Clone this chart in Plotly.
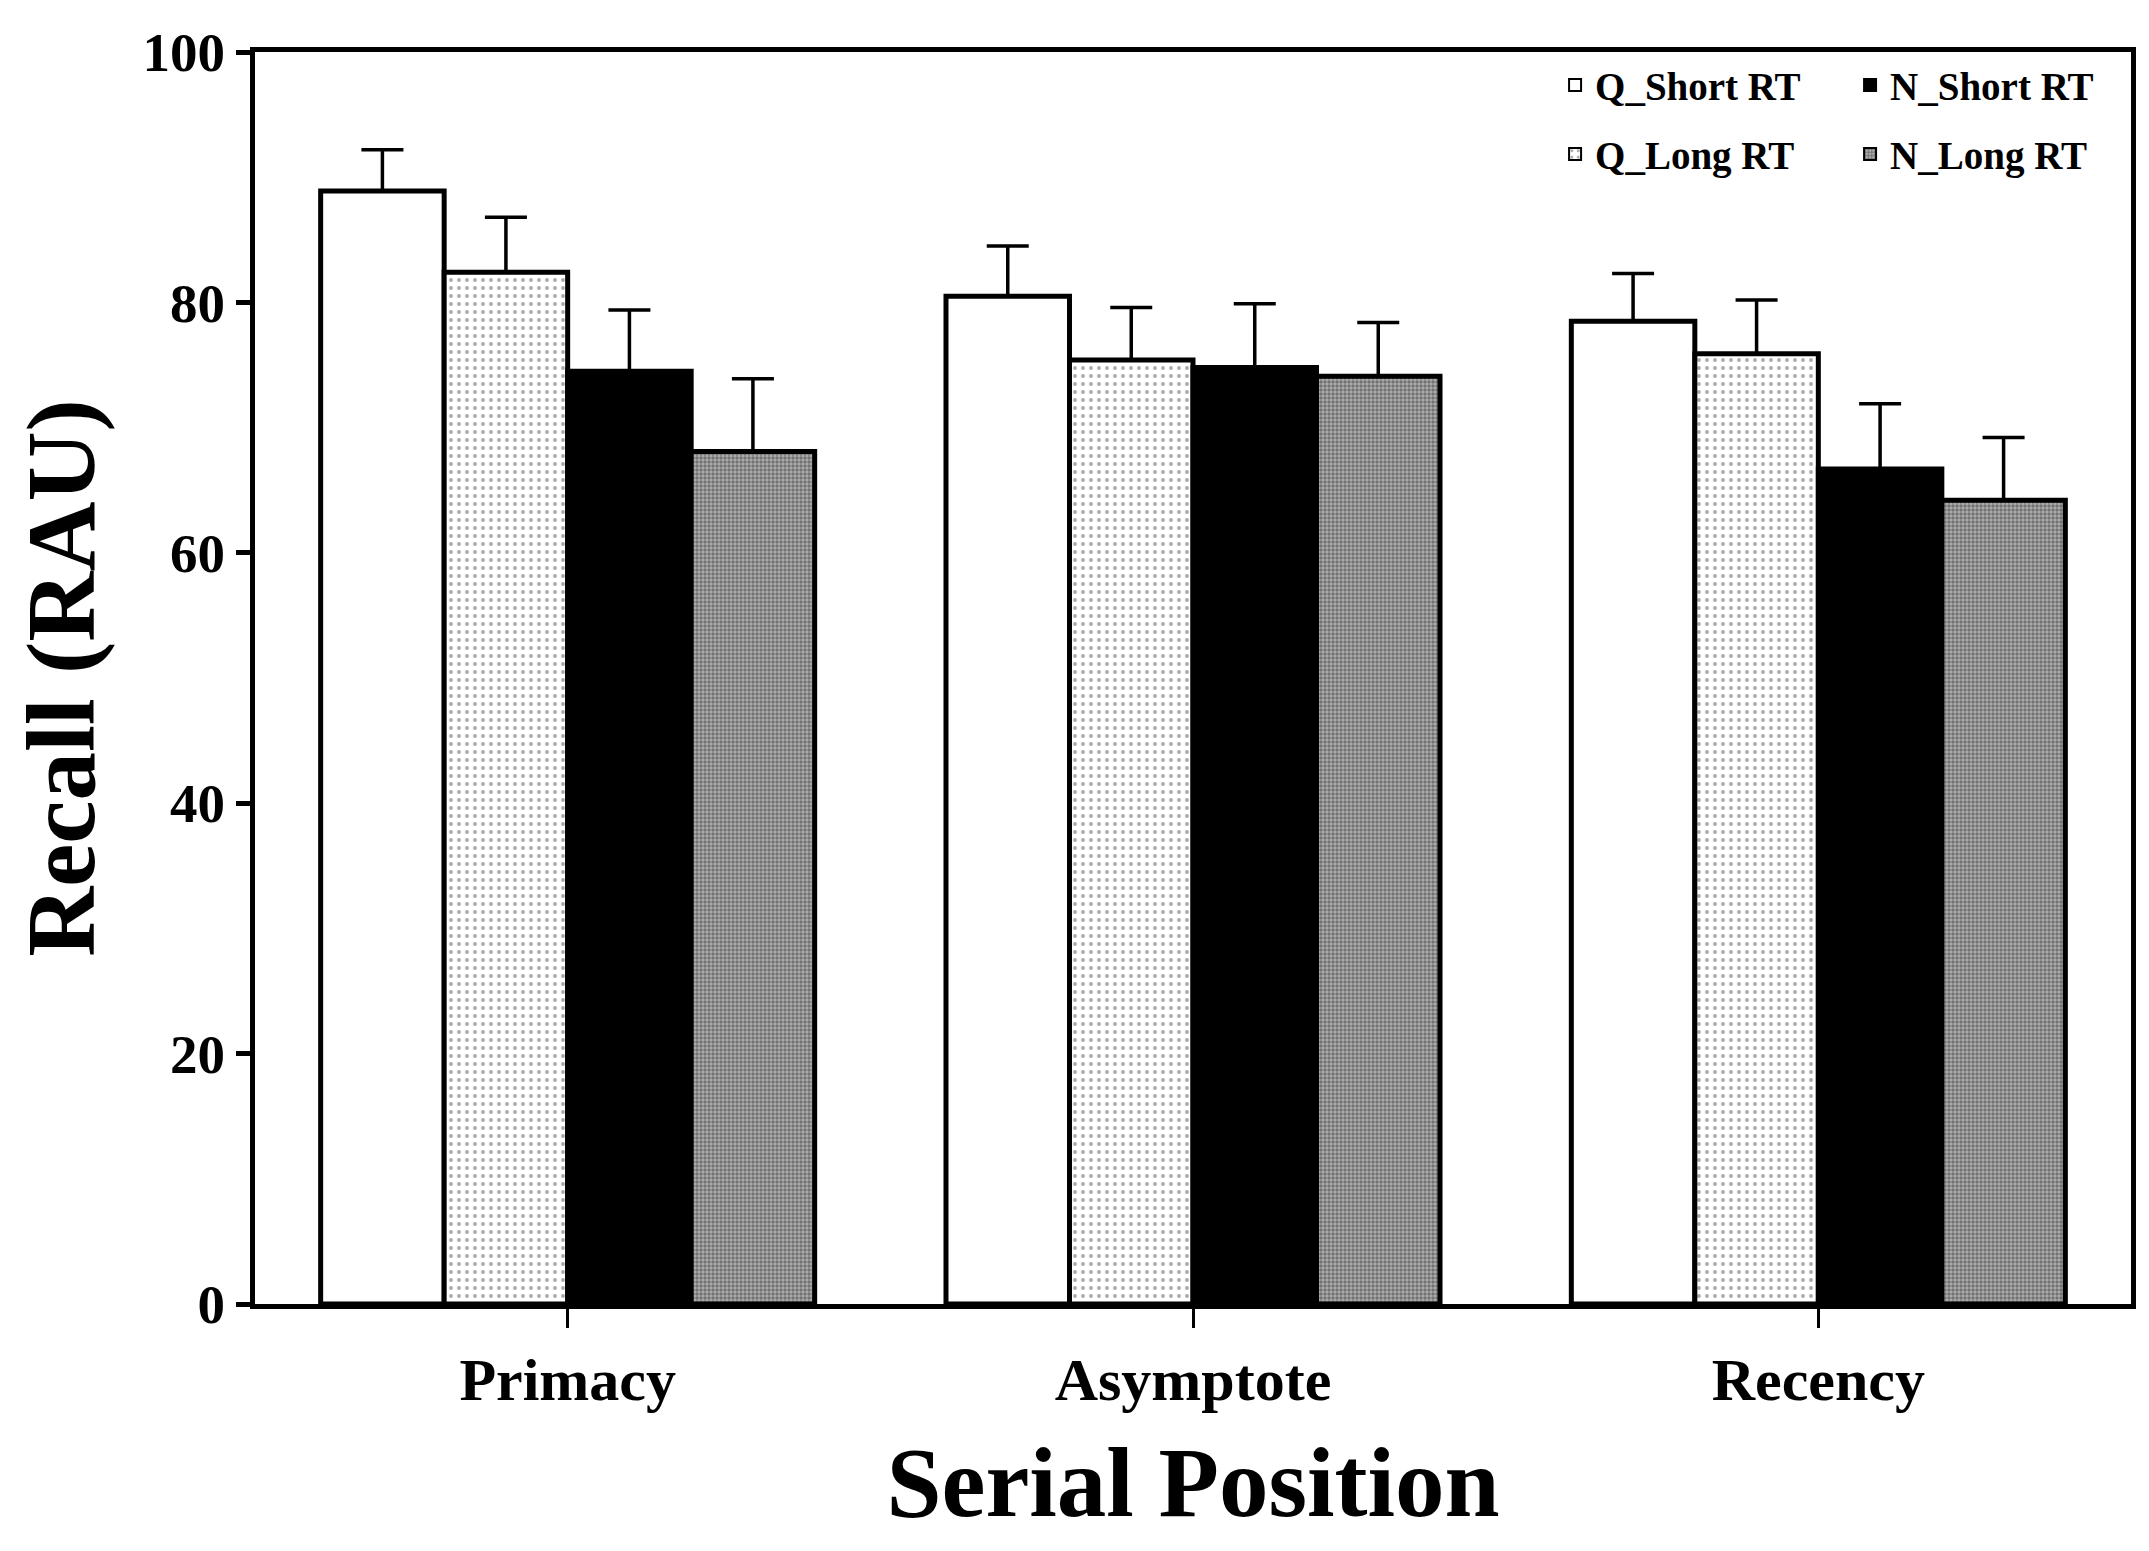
import plotly.graph_objects as go

categories = ["Primacy", "Asymptote", "Recency"]
series_names = ["Q_Short RT", "Q_Long RT", "N_Short RT", "N_Long RT"]
q_short = [88.9, 80.5, 78.5]
q_long = [82.4, 75.4, 75.9]
n_short = [74.5, 74.8, 66.7]
n_long = [68.1, 74.1, 64.2]
q_short_err = [3.3, 4.0, 3.8]
q_long_err = [4.4, 4.2, 4.3]
n_short_err = [4.9, 5.1, 5.2]
n_long_err = [5.8, 4.3, 5.0]
y_ticks = [0, 20, 40, 60, 80, 100]

FONT = "Liberation Serif"

styles = {
    "Q_Short RT": dict(color="white", marker_pattern=None, legend="legend"),
    "Q_Long RT": dict(color="white", marker_pattern=dict(shape=".", size=8, solidity=0.18,
                                                         fgcolor="#555555", bgcolor="white"),
                      legend="legend2"),
    "N_Short RT": dict(color="black", marker_pattern=None, legend="legend"),
    "N_Long RT": dict(color="#808080", marker_pattern=dict(shape=".", size=4, solidity=0.6,
                                                           fgcolor="#333333", bgcolor="#b0b0b0"),
                      legend="legend2"),
}
values = [q_short, q_long, n_short, n_long]
errors = [q_short_err, q_long_err, n_short_err, n_long_err]

fig = go.Figure()
for name, vals, errs in zip(series_names, values, errors):
    st = styles[name]
    marker = dict(color=st["color"], line=dict(color="black", width=5))
    if st["marker_pattern"] is not None:
        marker["pattern"] = st["marker_pattern"]
    fig.add_trace(go.Bar(
        x=categories, y=vals, name=name, marker=marker,
        legend=st["legend"],
        error_y=dict(type="data", array=errs, arrayminus=[0] * len(errs), symmetric=False,
                     color="black", thickness=3.5, width=21),
    ))

legend_common = dict(
    orientation="h", entrywidthmode="pixels", entrywidth=250,
    font=dict(family=FONT, size=39, color="black", weight="bold"),
    bgcolor="rgba(0,0,0,0)", xanchor="left", yanchor="top", itemsizing="constant",
    tracegroupgap=0,
)

fig.update_layout(
    width=2149, height=1551,
    margin=dict(l=247, r=12, t=44, b=255),
    paper_bgcolor="white", plot_bgcolor="white",
    barmode="group", bargap=0.21, bargroupgap=0,
    font=dict(family=FONT, color="black"),
    legend=dict(x=0.693, y=0.999, **legend_common),
    legend2=dict(x=0.693, y=0.944, **legend_common),
    xaxis=dict(
        range=[-0.5, 2.5], showline=True, linecolor="black", linewidth=5, mirror=True,
        ticks="outside", ticklen=19, tickwidth=3, tickcolor="black",
        tickfont=dict(family=FONT, size=60, color="black", weight="bold"),
        title=dict(text="Serial Position", font=dict(family=FONT, size=99, color="black", weight="bold"),
                   standoff=36),
        showgrid=False, zeroline=False,
    ),
    yaxis=dict(
        range=[0, 100], tickvals=y_ticks, showline=True, linecolor="black", linewidth=5, mirror=True,
        ticks="outside", ticklen=14, tickwidth=5, tickcolor="black",
        tickfont=dict(family=FONT, size=55, color="black", weight="bold"),
        title=dict(text="Recall (RAU)", font=dict(family=FONT, size=97, color="black", weight="bold"),
                   standoff=28),
        showgrid=False, zeroline=False,
    ),
)

fig.write_html("out.html")
